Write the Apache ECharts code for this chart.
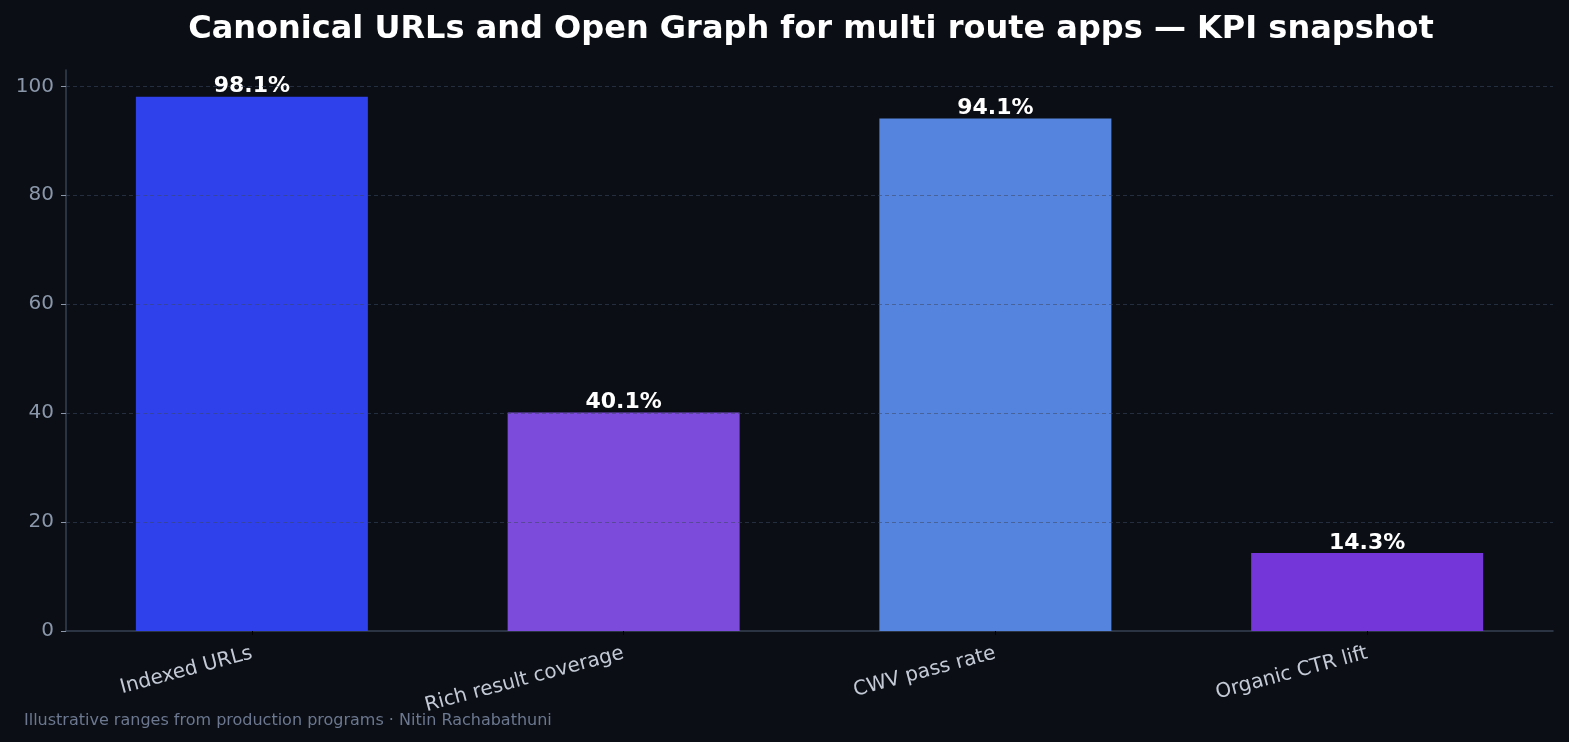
<!DOCTYPE html>
<html>
<head>
<meta charset="utf-8">
<script src="https://cdn.jsdelivr.net/npm/echarts@6/dist/echarts.min.js"></script>
<style>
  html, body { margin: 0; padding: 0; background: #0b0e14; }
  #chart { width: 1569px; height: 742px; }
</style>
</head>
<body>
<div id="chart"></div>
<script>
var categories = ['Indexed URLs', 'Rich result coverage', 'CWV pass rate', 'Organic CTR lift'];
var values = [98.1, 40.1, 94.1, 14.3];
var barColors = ['#2f41ea', '#7c4bdb', '#5584de', '#7436d8'];
var yTicks = [0, 20, 40, 60, 80, 100];

var chart = echarts.init(document.getElementById('chart'));
chart.setOption({
    backgroundColor: '#0b0e14',
    textStyle: { fontFamily: 'DejaVu Sans' },
    title: [
        {
            text: 'Canonical URLs and Open Graph for multi route apps \u2014 KPI snapshot',
            left: 806,
            top: 9,
            textAlign: 'center',
            textStyle: { color: '#ffffff', fontSize: 32, fontWeight: 'bold', fontFamily: 'DejaVu Sans' }
        },
        {
            text: 'Illustrative ranges from production programs \u00b7 Nitin Rachabathuni',
            left: 19,
            top: 708,
            textStyle: { color: '#6b7890', fontSize: 16, fontWeight: 'normal', fontFamily: 'DejaVu Sans' }
        }
    ],
    grid: { left: 66, right: 16, top: 70, bottom: 111 },
    xAxis: {
        type: 'category',
        data: categories,
        axisLine: { lineStyle: { color: '#364152', width: 1.5 } },
        axisTick: { show: true, alignWithLabel: true, length: 4, lineStyle: { color: '#000000' } },
        axisLabel: { color: '#c3cad6', fontSize: 20, rotate: 15, margin: 22 }
    },
    yAxis: {
        type: 'value',
        min: 0,
        max: 103,
        interval: 20,
        z: 3,
        axisLine: { show: true, lineStyle: { color: '#364152', width: 1.5 } },
        axisTick: { show: true, length: 5, customValues: yTicks, lineStyle: { color: '#8a97aa' } },
        axisLabel: { color: '#8a97aa', fontSize: 20, margin: 12, customValues: yTicks },
        splitLine: {
            show: true,
            showMinLine: false,
            lineStyle: { color: 'rgba(60,72,96,0.55)', type: [4, 3], width: 1 }
        }
    },
    series: [{
        type: 'bar',
        barWidth: 232,
        data: values.map(function (v, i) {
            return { value: v, itemStyle: { color: barColors[i] } };
        }),
        label: {
            show: true,
            position: 'top',
            distance: -1,
            color: '#ffffff',
            fontSize: 22,
            fontWeight: 'bold',
            formatter: function (p) { return p.value.toFixed(1) + '%'; }
        }
    }]
});
</script>
</body>
</html>
